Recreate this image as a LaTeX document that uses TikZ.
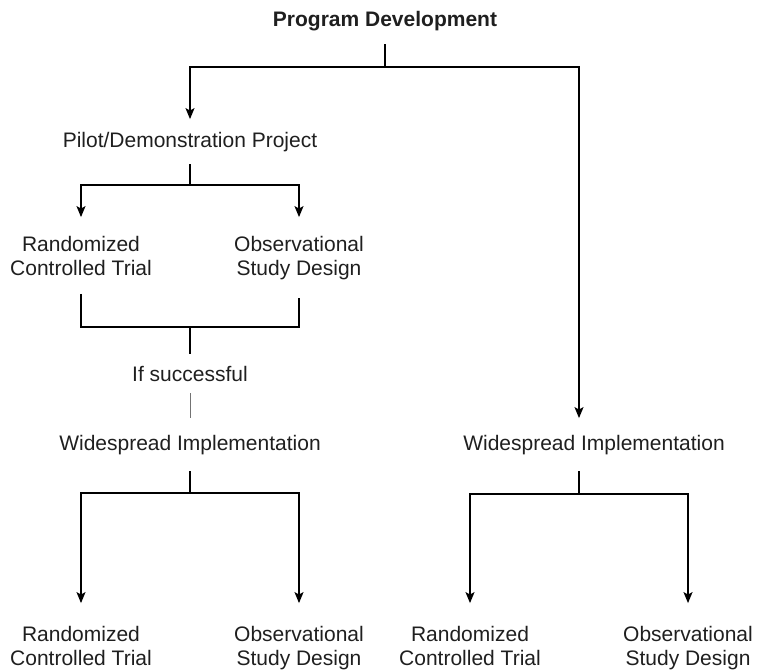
\documentclass[tikz,border=0pt]{standalone}
\usepackage{fontspec}
\setmainfont{Liberation Sans}
\usetikzlibrary{arrows.meta}

\begin{document}
\begin{tikzpicture}[
        x=1pt, y=-1pt, % pixel grid, y runs down
        line width=1.4pt,
        >={Stealth[length=11pt,width=9pt,inset=2.5pt]}]

        \tikzset{l/.style={
            font=\fontsize{21}{24}\selectfont,
            text=black!88,
            align=center,
            anchor=base, % last line for two-line labels
            inner xsep=0pt,
            inner ysep=#1
        }, l/.default=13pt}
        \useasboundingbox (0,0) rectangle (759,670);

        \node[l, font=\fontsize{21}{24}\selectfont\bfseries] (prog) at (385,26) {Program Development};
        \node[l=12pt] (pilot) at (190,147) {Pilot/Demonstration Project};
        \node[l=18pt] (rct1) at (81,275) {Randomized\\Controlled Trial};
        \node[l=18pt] (osd1) at (299,275) {Observational\\Study Design};
        \node[l=11.5pt] (ifs) at (190,381) {If successful};
        \node[l=16pt] (wide1) at (190,450) {Widespread Implementation};
        \node[l=16pt] (wide2) at (594,450) {Widespread Implementation};
        \node[l=22pt] (rct2) at (81,665) {Randomized\\Controlled Trial};
        \node[l=22pt] (osd2) at (299,665) {Observational\\Study Design};
        \node[l=22pt] (rct3) at (470,665) {Randomized\\Controlled Trial};
        \node[l=22pt] (osd3) at (688,665) {Observational\\Study Design};

        % branch points
        \coordinate (j0) at (385,67);
        \coordinate (j1) at (190,185);
        \coordinate (j2) at (190,327);
        \coordinate (j3) at (190,493);
        \coordinate (j4) at (579,494);

        \draw (prog) -- (j0);
        \draw[->] (j0) -| (pilot);
        \draw[->] (j0) -| ([xshift=-15pt]wide2.north);
        \draw (pilot) -- (j1);
        \draw[->] (j1) -| (rct1);
        \draw[->] (j1) -| (osd1);
        \draw (rct1) |- (j2) -| (osd1);
        \draw (j2) -- (ifs);
        \draw[black!55, line width=0.9pt] (ifs) -- (wide1);
        \draw (wide1) -- (j3);
        \draw[->] (j3) -| (rct2);
        \draw[->] (j3) -| (osd2);
        \draw ([xshift=-15pt]wide2.south) -- (j4);
        \draw[->] (j4) -| (rct3);
        \draw[->] (j4) -| (osd3);
    \end{tikzpicture}
\end{document}
